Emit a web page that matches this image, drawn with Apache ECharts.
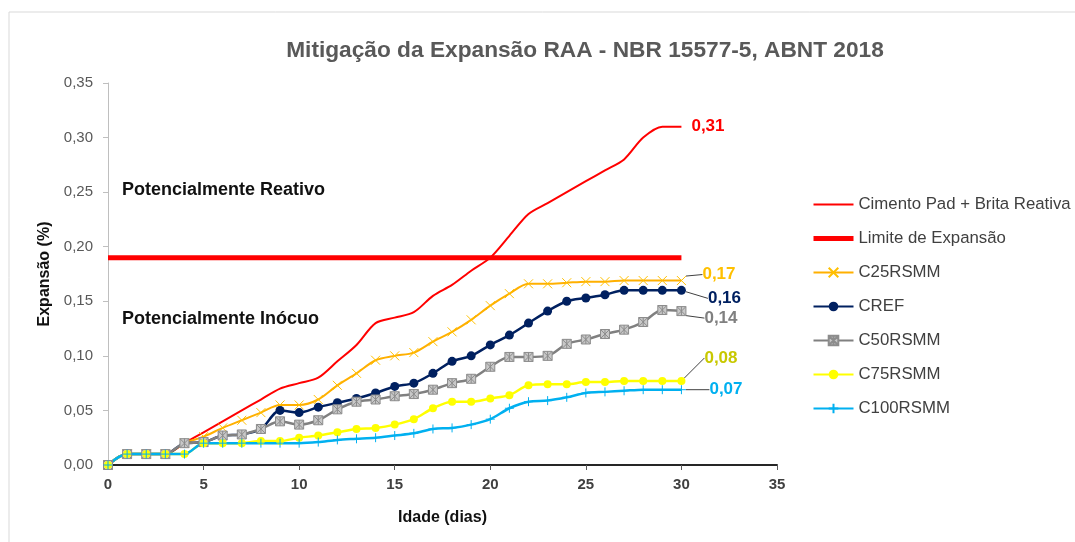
<!DOCTYPE html>
<html>
  <head>
    <meta charset="UTF-8">
    <script src="https://cdn.jsdelivr.net/npm/echarts@6/dist/echarts.min.js"></script>
    <title>Mitigação da Expansão RAA</title>
  </head>
  <body style="margin:0">
    <div id="main" style="width: 1075px;height:542px;"></div>
    <script type="text/javascript">
      // idade em dias
      var dias = [0, 1, 2, 3, 4, 5, 6, 7, 8, 9, 10, 11, 12, 13, 14, 15, 16, 17, 18, 19, 20, 21, 22, 23, 24, 25, 26, 27, 28, 29, 30];

      var cimentoPad = [0, 0.01, 0.01, 0.01, 0.02, 0.03, 0.04, 0.05, 0.06, 0.07, 0.075, 0.08, 0.095, 0.11, 0.13, 0.135, 0.14, 0.155, 0.165, 0.178, 0.19, 0.21, 0.23, 0.24, 0.25, 0.26, 0.27, 0.28, 0.30, 0.31, 0.31];
      var limiteDias = [0, 30];
      var limite = [0.19, 0.19];
      var c25 = [0, 0.01, 0.01, 0.01, 0.02, 0.026, 0.034, 0.041, 0.048, 0.055, 0.055, 0.06, 0.073, 0.084, 0.096, 0.1, 0.103, 0.113, 0.122, 0.133, 0.146, 0.157, 0.166, 0.166, 0.167, 0.168, 0.168, 0.169, 0.169, 0.169, 0.169];
      var cref = [0, 0.01, 0.01, 0.01, 0.02, 0.021, 0.027, 0.028, 0.033, 0.05, 0.048, 0.053, 0.057, 0.061, 0.066, 0.072, 0.075, 0.084, 0.095, 0.1, 0.11, 0.119, 0.13, 0.141, 0.15, 0.153, 0.156, 0.16, 0.16, 0.16, 0.16];
      var c50 = [0, 0.01, 0.01, 0.01, 0.02, 0.021, 0.027, 0.028, 0.033, 0.04, 0.037, 0.041, 0.051, 0.058, 0.06, 0.063, 0.065, 0.069, 0.075, 0.079, 0.09, 0.099, 0.099, 0.1, 0.111, 0.115, 0.12, 0.124, 0.131, 0.142, 0.141];
      var c75 = [0, 0.01, 0.01, 0.01, 0.01, 0.02, 0.02, 0.02, 0.022, 0.022, 0.025, 0.027, 0.03, 0.033, 0.034, 0.037, 0.042, 0.052, 0.058, 0.058, 0.061, 0.064, 0.073, 0.074, 0.074, 0.076, 0.076, 0.077, 0.077, 0.077, 0.077];
      var c100 = [0, 0.01, 0.01, 0.01, 0.01, 0.02, 0.02, 0.02, 0.02, 0.02, 0.02, 0.021, 0.023, 0.024, 0.025, 0.027, 0.029, 0.033, 0.034, 0.037, 0.042, 0.052, 0.058, 0.059, 0.062, 0.066, 0.067, 0.068, 0.069, 0.069, 0.069];

      function virgula(v) {
        return v.toFixed(2).replace('.', ',');
      }

      // pares [dia, valor]; o ultimo ponto leva o rotulo
      function pares(xs, ys, cor) {
        return ys.map(function (v, i) {
          if (i === ys.length - 1 && cor) {
            return { value: [xs[i], v], label: { show: true, color: cor } };
          }
          return [xs[i], v];
        });
      }

      var rotulo = {
        position: 'right',
        distance: 6,
        fontSize: 17,
        fontWeight: 'bold',
        fontFamily: 'Liberation Sans',
        formatter: function (p) { return virgula(p.value[1]); }
      };
      var guia = { show: true, lineStyle: { color: '#404040', width: 1 } };
      var semSimbolo = { color: 'rgba(0,0,0,0)', borderColor: 'rgba(0,0,0,0)', opacity: 0 };

      var myChart = echarts.init(document.getElementById('main'));

      var option = {
        animation: false,
        textStyle: { fontFamily: 'Liberation Sans' },
        title: {
          text: 'Mitigação da Expansão RAA - NBR 15577-5, ABNT 2018',
          left: 580,
          textAlign: 'center',
          top: 34,
          textStyle: { fontSize: 22.7, fontWeight: 'bold', color: '#595959' }
        },
        graphic: [
          { type: 'rect', shape: { x: 9, y: 12, width: 1080, height: 540 }, style: { fill: 'none', stroke: '#d9d9d9', lineWidth: 1 }, silent: true },
          { type: 'text', left: 122, top: 181, style: { text: 'Potencialmente Reativo', font: 'bold 18px Liberation Sans', fill: '#111' } },
          { type: 'text', left: 122, top: 310, style: { text: 'Potencialmente Inócuo', font: 'bold 18px Liberation Sans', fill: '#111' } }
        ],
        legend: {
          orient: 'vertical',
          left: 806,
          top: 191,
          itemWidth: 40,
          itemHeight: 12,
          itemGap: 17,
          textStyle: { fontSize: 16.8, color: '#404040' },
          data: [
            { name: 'Cimento Pad + Brita Reativa', itemStyle: semSimbolo },
            { name: 'Limite de Expansão', itemStyle: semSimbolo, lineStyle: { width: 5 } },
            'C25RSMM', 'CREF', 'C50RSMM', 'C75RSMM', 'C100RSMM'
          ]
        },
        grid: { left: 108, right: 298, top: 83, bottom: 77 },
        xAxis: {
          type: 'value',
          min: 0,
          max: 35,
          interval: 5,
          name: 'Idade (dias)',
          nameLocation: 'middle',
          nameGap: 45,
          nameTextStyle: { fontSize: 16, fontWeight: 'bold', color: '#111' },
          axisLine: { lineStyle: { color: '#262626', width: 2 } },
          axisTick: { show: true, length: 5, lineStyle: { color: '#595959' } },
          axisLabel: { fontSize: 15, fontWeight: 'bold', color: '#404040', margin: 12 },
          splitLine: { show: false }
        },
        yAxis: {
          type: 'value',
          min: 0,
          max: 0.35,
          interval: 0.05,
          name: 'Expansão (%)',
          nameLocation: 'middle',
          nameGap: 53,
          nameTextStyle: { fontSize: 16, fontWeight: 'bold', color: '#111' },
          axisLine: { show: true, lineStyle: { color: '#bfbfbf' } },
          axisTick: { show: true, length: 5, lineStyle: { color: '#bfbfbf' } },
          axisLabel: { fontSize: 15, color: '#595959', margin: 15, formatter: virgula },
          splitLine: { show: false }
        },
        series: [
          {
            name: 'Cimento Pad + Brita Reativa',
            type: 'line',
            smooth: 0.3,
            symbol: 'none',
            color: '#ff0000',
            lineStyle: { width: 2 },
            endLabel: {
              show: true,
              distance: 10,
              fontSize: 17,
              fontWeight: 'bold',
              color: '#ff0000',
              formatter: function (p) { return virgula(p.value[1]); }
            },
            data: pares(dias, cimentoPad)
          },
          {
            name: 'Limite de Expansão',
            type: 'line',
            symbol: 'none',
            color: '#ff0000',
            lineStyle: { width: 5 },
            data: pares(limiteDias, limite)
          },
          {
            name: 'C25RSMM',
            type: 'line',
            smooth: 0.3,
            symbol: 'path://M0,0L10,10M10,0L0,10',
            symbolSize: 9,
            color: '#ffb000',
            itemStyle: { color: '#ffb000', borderColor: '#ffc000', borderWidth: 1 },
            lineStyle: { width: 2, color: '#ffb000' },
            label: rotulo,
            labelLine: guia,
            labelLayout: { dx: 10, dy: -6 },
            data: pares(dias, c25, '#ffc000')
          },
          {
            name: 'CREF',
            type: 'line',
            smooth: 0.3,
            symbol: 'circle',
            symbolSize: 9,
            color: '#002060',
            lineStyle: { width: 2.5 },
            label: rotulo,
            labelLine: guia,
            labelLayout: { dx: 16, dy: 8 },
            data: pares(dias, cref, '#002060')
          },
          {
            name: 'C50RSMM',
            type: 'line',
            smooth: 0.3,
            symbol: 'path://M0,0H10V10H0ZM0,0L10,10M10,0L0,10M5,0V10',
            symbolSize: 9,
            color: '#808080',
            itemStyle: { color: '#c8c8c8', borderColor: '#8c8c8c', borderWidth: 1 },
            lineStyle: { width: 2.5, color: '#808080' },
            label: rotulo,
            labelLine: guia,
            labelLayout: { dx: 12, dy: 7 },
            data: pares(dias, c50, '#808080')
          },
          {
            name: 'C75RSMM',
            type: 'line',
            smooth: 0.3,
            symbol: 'circle',
            symbolSize: 8,
            color: '#ffff00',
            lineStyle: { width: 2.5 },
            label: rotulo,
            labelLine: guia,
            labelLayout: { dx: 13, dy: -23 },
            data: pares(dias, c75, '#c8c800')
          },
          {
            name: 'C100RSMM',
            type: 'line',
            smooth: 0.3,
            symbol: 'path://M5,0V10M0,5H10',
            symbolSize: 9,
            color: '#00b0f0',
            itemStyle: { color: '#00b0f0', borderColor: '#00b0f0', borderWidth: 1 },
            lineStyle: { width: 2.5, color: '#00b0f0' },
            label: rotulo,
            labelLine: guia,
            labelLayout: { dx: 17, dy: 0 },
            data: pares(dias, c100, '#00b0f0')
          }
        ]
      };

      myChart.setOption(option);
    </script>
  </body>
</html>
